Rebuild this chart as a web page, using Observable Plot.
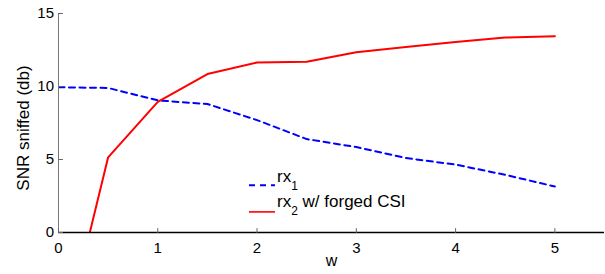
<!DOCTYPE html>
<html><head><meta charset="utf-8">
<script src="https://cdn.jsdelivr.net/npm/d3@7"></script>
<script src="https://cdn.jsdelivr.net/npm/@observablehq/plot@0.6"></script>
<style>
body{margin:0;background:#fff;}
#chart{position:relative;width:605px;height:274px;font-family:"Liberation Sans",Arial,Helvetica,sans-serif;}
#legend{position:absolute;left:0;top:0;pointer-events:none;}
</style>
</head><body><div id="chart"></div>
<script>
// data
const w = [0, 0.5, 1, 1.5, 2, 2.5, 3, 3.5, 4, 4.5, 5];
const rx1 = [9.95, 9.9, 9.05, 8.8, 7.7, 6.4, 5.85, 5.1, 4.65, 3.95, 3.15];
const rx2 = [-8.8, 5.15, 8.95, 10.85, 11.65, 11.7, 12.35, 12.7, 13.05, 13.35, 13.45];
const xTicks = [0, 1, 2, 3, 4, 5];
const yTicks = [0, 5, 10, 15];
const seriesLabels = [["rx", "1", ""], ["rx", "2", " w/ forged CSI"]];
const seriesColors = ["#0000ff", "#ff0000"];
const xLabel = "w";
const yLabel = "SNR sniffed (db)";

const FONT = '"Liberation Sans",Arial,Helvetica,sans-serif';
const d1 = w.map((x, i) => ({x, y: rx1[i]}));
const d2 = w.map((x, i) => ({x, y: rx2[i]}));
const tickShape = {draw(ctx, l) { ctx.moveTo(0, 0); ctx.lineTo(0, -l); }};

const plot = Plot.plot({
  width: 605, height: 274,
  marginLeft: 58, marginRight: 1, marginTop: 13, marginBottom: 42,
  style: {fontFamily: FONT, fontSize: "15px", background: "#fff", color: "#000"},
  x: {domain: [0, 5.5]},
  y: {domain: [0, 15]},
  marks: [
    Plot.lineY(d1, {x: "x", y: "y", stroke: seriesColors[0], strokeWidth: 2, strokeDasharray: "6,4.5", clip: true}),
    Plot.lineY(d2, {x: "x", y: "y", stroke: seriesColors[1], strokeWidth: 2, clip: true}),
    Plot.ruleX([0], {stroke: "#777", strokeWidth: 1}),
    Plot.ruleY([0], {stroke: "#000", strokeWidth: 1.3}),
    Plot.vector(xTicks, {x: d => d, y: 0, length: 4, rotate: 0, anchor: "start", shape: tickShape, stroke: "#666", strokeWidth: 1}),
    Plot.vector(yTicks, {x: 0, y: d => d, length: 4, rotate: 90, anchor: "start", shape: tickShape, stroke: "#666", strokeWidth: 1}),
    Plot.axisX({ticks: xTicks, tickSize: 0, tickPadding: 10, tickFormat: "d", label: null, fontSize: 15}),
    Plot.axisY({ticks: yTicks, tickSize: 0, tickPadding: 4.5, tickFormat: "d", label: null, fontSize: 15}),
    Plot.text([xLabel], {frameAnchor: "bottom", textAnchor: "middle", dy: 33, fontSize: 16}),
    Plot.text([yLabel], {frameAnchor: "left", textAnchor: "middle", rotate: -90, dx: -35.4, dy: 5, fontSize: 17})
  ]
});
const chart = document.getElementById("chart");
chart.prepend(plot);

// legend overlay
const leg = d3.select(chart).append("svg").attr("id", "legend")
  .attr("width", 605).attr("height", 274)
  .style("font-family", FONT);
const legX = 249, legY = 181.5, legStep = 25.2;
seriesLabels.forEach((lab, i) => {
  const by = legY + i * legStep;
  leg.append("line").attr("x1", legX).attr("x2", legX + 26)
    .attr("y1", by + 3.7 + i * 1.5).attr("y2", by + 3.7 + i * 1.5)
    .attr("stroke", seriesColors[i]).attr("stroke-width", i === 0 ? 2 : 1.6)
    .attr("stroke-dasharray", i === 0 ? "6,5" : null);
  const t = leg.append("text").attr("x", legX + 28).attr("y", by).attr("font-size", 17).attr("fill", "#000");
  t.append("tspan").attr("fill", "#000").text(lab[0]);
  t.append("tspan").attr("fill", "#000").attr("dy", 8.5).attr("font-size", 12).text(lab[1]);
  if (lab[2]) t.append("tspan").attr("fill", "#000").attr("dy", -8.5).text(lab[2]);
});
</script>
</body></html>
